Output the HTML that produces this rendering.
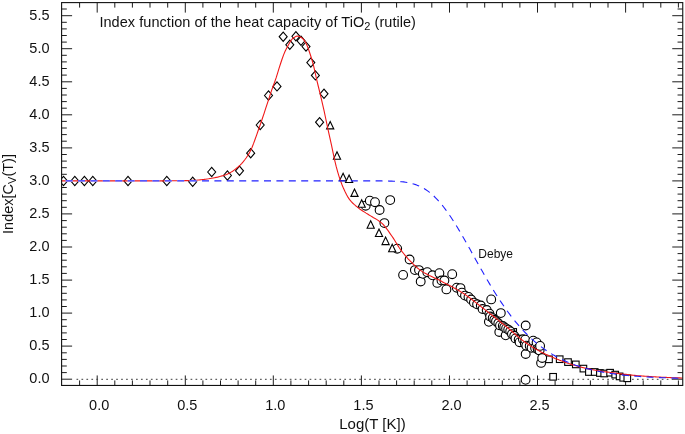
<!DOCTYPE html>
<html><head><meta charset="utf-8"><title>Index function of the heat capacity of TiO2 (rutile)</title>
<style>html,body{margin:0;padding:0;background:#fff}svg{display:block}</style></head>
<body>
<svg width="685" height="434" viewBox="0 0 685 434" font-family="'Liberation Sans', sans-serif" fill="#111">
<rect width="685" height="434" fill="#fff"/>
<clipPath id="c"><rect x="61.6" y="2.6" width="621.15" height="382.84999999999997"/></clipPath>
<path d="M79.6 385.45v-5M79.6 2.6v5M97.2 385.45v-10M97.2 2.6v10M114.8 385.45v-5M114.8 2.6v5M132.4 385.45v-5M132.4 2.6v5M150.0 385.45v-5M150.0 2.6v5M167.7 385.45v-5M167.7 2.6v5M185.3 385.45v-10M185.3 2.6v10M202.9 385.45v-5M202.9 2.6v5M220.5 385.45v-5M220.5 2.6v5M238.1 385.45v-5M238.1 2.6v5M255.7 385.45v-5M255.7 2.6v5M273.3 385.45v-10M273.3 2.6v10M290.9 385.45v-5M290.9 2.6v5M308.6 385.45v-5M308.6 2.6v5M326.2 385.45v-5M326.2 2.6v5M343.8 385.45v-5M343.8 2.6v5M361.4 385.45v-10M361.4 2.6v10M379.0 385.45v-5M379.0 2.6v5M396.6 385.45v-5M396.6 2.6v5M414.2 385.45v-5M414.2 2.6v5M431.8 385.45v-5M431.8 2.6v5M449.5 385.45v-10M449.5 2.6v10M467.1 385.45v-5M467.1 2.6v5M484.7 385.45v-5M484.7 2.6v5M502.3 385.45v-5M502.3 2.6v5M519.9 385.45v-5M519.9 2.6v5M537.5 385.45v-10M537.5 2.6v10M555.1 385.45v-5M555.1 2.6v5M572.8 385.45v-5M572.8 2.6v5M590.4 385.45v-5M590.4 2.6v5M608.0 385.45v-5M608.0 2.6v5M625.6 385.45v-10M625.6 2.6v10M643.2 385.45v-5M643.2 2.6v5M660.8 385.45v-5M660.8 2.6v5M678.4 385.45v-5M678.4 2.6v5M61.6 379.2h10.5M682.75 379.2h-10.5M61.6 372.6h5.2M682.75 372.6h-5.2M61.6 366.0h5.2M682.75 366.0h-5.2M61.6 359.4h5.2M682.75 359.4h-5.2M61.6 352.8h5.2M682.75 352.8h-5.2M61.6 346.1h10.5M682.75 346.1h-10.5M61.6 339.5h5.2M682.75 339.5h-5.2M61.6 332.9h5.2M682.75 332.9h-5.2M61.6 326.3h5.2M682.75 326.3h-5.2M61.6 319.7h5.2M682.75 319.7h-5.2M61.6 313.1h10.5M682.75 313.1h-10.5M61.6 306.5h5.2M682.75 306.5h-5.2M61.6 299.9h5.2M682.75 299.9h-5.2M61.6 293.3h5.2M682.75 293.3h-5.2M61.6 286.7h5.2M682.75 286.7h-5.2M61.6 280.1h10.5M682.75 280.1h-10.5M61.6 273.4h5.2M682.75 273.4h-5.2M61.6 266.8h5.2M682.75 266.8h-5.2M61.6 260.2h5.2M682.75 260.2h-5.2M61.6 253.6h5.2M682.75 253.6h-5.2M61.6 247.0h10.5M682.75 247.0h-10.5M61.6 240.4h5.2M682.75 240.4h-5.2M61.6 233.8h5.2M682.75 233.8h-5.2M61.6 227.2h5.2M682.75 227.2h-5.2M61.6 220.6h5.2M682.75 220.6h-5.2M61.6 213.9h10.5M682.75 213.9h-10.5M61.6 207.3h5.2M682.75 207.3h-5.2M61.6 200.7h5.2M682.75 200.7h-5.2M61.6 194.1h5.2M682.75 194.1h-5.2M61.6 187.5h5.2M682.75 187.5h-5.2M61.6 180.9h10.5M682.75 180.9h-10.5M61.6 174.3h5.2M682.75 174.3h-5.2M61.6 167.7h5.2M682.75 167.7h-5.2M61.6 161.1h5.2M682.75 161.1h-5.2M61.6 154.5h5.2M682.75 154.5h-5.2M61.6 147.9h10.5M682.75 147.9h-10.5M61.6 141.2h5.2M682.75 141.2h-5.2M61.6 134.6h5.2M682.75 134.6h-5.2M61.6 128.0h5.2M682.75 128.0h-5.2M61.6 121.4h5.2M682.75 121.4h-5.2M61.6 114.8h10.5M682.75 114.8h-10.5M61.6 108.2h5.2M682.75 108.2h-5.2M61.6 101.6h5.2M682.75 101.6h-5.2M61.6 95.0h5.2M682.75 95.0h-5.2M61.6 88.4h5.2M682.75 88.4h-5.2M61.6 81.8h10.5M682.75 81.8h-10.5M61.6 75.1h5.2M682.75 75.1h-5.2M61.6 68.5h5.2M682.75 68.5h-5.2M61.6 61.9h5.2M682.75 61.9h-5.2M61.6 55.3h5.2M682.75 55.3h-5.2M61.6 48.7h10.5M682.75 48.7h-10.5M61.6 42.1h5.2M682.75 42.1h-5.2M61.6 35.5h5.2M682.75 35.5h-5.2M61.6 28.9h5.2M682.75 28.9h-5.2M61.6 22.3h5.2M682.75 22.3h-5.2M61.6 15.7h10.5M682.75 15.7h-10.5M61.6 9.0h5.2M682.75 9.0h-5.2" stroke="#111" stroke-width="0.95" fill="none"/>
<path d="M76.5 379.3H672.75" stroke="#3a3a3a" stroke-width="1" stroke-dasharray="1.7 3.26" fill="none"/>
<g clip-path="url(#c)">
<g fill="#fff" stroke="#000" stroke-width="1.1"><rect x="509.9" y="328.6" width="6.6" height="6.6"/><rect x="549.8" y="373.5" width="6.6" height="6.6"/><rect x="545.7" y="356.0" width="6.6" height="6.6"/><rect x="556.4" y="355.9" width="6.6" height="6.6"/><rect x="564.7" y="358.8" width="6.6" height="6.6"/><rect x="572.5" y="361.1" width="6.6" height="6.6"/><rect x="580.1" y="365.3" width="6.6" height="6.6"/><rect x="585.6" y="368.7" width="6.6" height="6.6"/><rect x="591.4" y="368.7" width="6.6" height="6.6"/><rect x="596.6" y="369.7" width="6.6" height="6.6"/><rect x="600.9" y="370.2" width="6.6" height="6.6"/><rect x="606.8" y="369.4" width="6.6" height="6.6"/><rect x="611.9" y="371.3" width="6.6" height="6.6"/><rect x="616.3" y="373.1" width="6.6" height="6.6"/><rect x="619.9" y="374.5" width="6.6" height="6.6"/><rect x="624.0" y="375.0" width="6.6" height="6.6"/><circle cx="365.7" cy="205.7" r="4.4"/><circle cx="369.8" cy="200.7" r="4.4"/><circle cx="375.0" cy="202.2" r="4.4"/><circle cx="379.6" cy="210.0" r="4.4"/><circle cx="384.4" cy="223.1" r="4.4"/><circle cx="390.2" cy="200.1" r="4.4"/><circle cx="397.2" cy="248.7" r="4.4"/><circle cx="403.1" cy="274.9" r="4.4"/><circle cx="409.6" cy="259.5" r="4.4"/><circle cx="414.9" cy="270.1" r="4.4"/><circle cx="419.0" cy="270.1" r="4.4"/><circle cx="420.7" cy="281.5" r="4.4"/><circle cx="422.8" cy="273.8" r="4.4"/><circle cx="427.3" cy="272.2" r="4.4"/><circle cx="432.5" cy="275.3" r="4.4"/><circle cx="437.3" cy="282.9" r="4.4"/><circle cx="439.4" cy="273.2" r="4.4"/><circle cx="441.5" cy="280.5" r="4.4"/><circle cx="444.4" cy="280.5" r="4.4"/><circle cx="446.4" cy="289.4" r="4.4"/><circle cx="452.2" cy="274.2" r="4.4"/><circle cx="456.8" cy="287.7" r="4.4"/><circle cx="460.5" cy="288.1" r="4.4"/><circle cx="461.9" cy="292.7" r="4.4"/><circle cx="465.0" cy="295.6" r="4.4"/><circle cx="468.5" cy="296.9" r="4.4"/><circle cx="471.1" cy="299.5" r="4.4"/><circle cx="473.9" cy="302.6" r="4.4"/><circle cx="477.1" cy="304.3" r="4.4"/><circle cx="480.8" cy="305.5" r="4.4"/><circle cx="482.6" cy="309.0" r="4.4"/><circle cx="486.7" cy="310.0" r="4.4"/><circle cx="488.9" cy="321.8" r="4.4"/><circle cx="489.4" cy="313.6" r="4.4"/><circle cx="490.1" cy="316.5" r="4.4"/><circle cx="491.2" cy="299.4" r="4.4"/><circle cx="492.7" cy="318.1" r="4.4"/><circle cx="494.3" cy="319.8" r="4.4"/><circle cx="496.0" cy="321.3" r="4.4"/><circle cx="498.3" cy="323.3" r="4.4"/><circle cx="499.3" cy="332.0" r="4.4"/><circle cx="500.0" cy="325.4" r="4.4"/><circle cx="500.8" cy="313.1" r="4.4"/><circle cx="502.8" cy="325.9" r="4.4"/><circle cx="504.2" cy="327.3" r="4.4"/><circle cx="505.7" cy="335.3" r="4.4"/><circle cx="506.1" cy="328.4" r="4.4"/><circle cx="508.2" cy="329.6" r="4.4"/><circle cx="510.2" cy="331.3" r="4.4"/><circle cx="511.9" cy="334.1" r="4.4"/><circle cx="514.2" cy="335.8" r="4.4"/><circle cx="515.5" cy="338.4" r="4.4"/><circle cx="518.7" cy="339.5" r="4.4"/><circle cx="519.6" cy="342.2" r="4.4"/><circle cx="522.9" cy="339.3" r="4.4"/><circle cx="524.8" cy="343.6" r="4.4"/><circle cx="525.2" cy="339.7" r="4.4"/><circle cx="525.6" cy="379.8" r="4.4"/><circle cx="525.7" cy="325.5" r="4.4"/><circle cx="525.7" cy="354.0" r="4.4"/><circle cx="526.3" cy="345.7" r="4.4"/><circle cx="529.7" cy="346.0" r="4.4"/><circle cx="531.6" cy="347.8" r="4.4"/><circle cx="533.2" cy="340.7" r="4.4"/><circle cx="535.1" cy="347.9" r="4.4"/><circle cx="536.6" cy="342.4" r="4.4"/><circle cx="537.6" cy="348.7" r="4.4"/><circle cx="538.2" cy="349.8" r="4.4"/><circle cx="539.6" cy="350.4" r="4.4"/><circle cx="540.1" cy="345.9" r="4.4"/><circle cx="541.1" cy="362.9" r="4.4"/><circle cx="542.2" cy="358.0" r="4.4"/><path d="M326.6 128.9h7.2l-3.6 -7.5z"/><path d="M333.4 159.2h7.2l-3.6 -7.5z"/><path d="M339.5 180.8h7.2l-3.6 -7.5z"/><path d="M345.5 182.5h7.2l-3.6 -7.5z"/><path d="M350.9 196.4h7.2l-3.6 -7.5z"/><path d="M358.1 207.2h7.2l-3.6 -7.5z"/><path d="M367.1 228.2h7.2l-3.6 -7.5z"/><path d="M375.4 236.5h7.2l-3.6 -7.5z"/><path d="M382.0 244.6h7.2l-3.6 -7.5z"/><path d="M388.6 251.8h7.2l-3.6 -7.5z"/><path d="M59.5 181.0l4 -4.6l4 4.6l-4 4.6z"/><path d="M70.8 181.0l4 -4.6l4 4.6l-4 4.6z"/><path d="M80.4 181.0l4 -4.6l4 4.6l-4 4.6z"/><path d="M88.8 181.0l4 -4.6l4 4.6l-4 4.6z"/><path d="M124.0 181.0l4 -4.6l4 4.6l-4 4.6z"/><path d="M162.8 181.0l4 -4.6l4 4.6l-4 4.6z"/><path d="M188.7 181.8l4 -4.6l4 4.6l-4 4.6z"/><path d="M207.7 172.0l4 -4.6l4 4.6l-4 4.6z"/><path d="M223.4 175.5l4 -4.6l4 4.6l-4 4.6z"/><path d="M235.5 170.8l4 -4.6l4 4.6l-4 4.6z"/><path d="M246.7 153.2l4 -4.6l4 4.6l-4 4.6z"/><path d="M256.2 125.0l4 -4.6l4 4.6l-4 4.6z"/><path d="M264.5 95.5l4 -4.6l4 4.6l-4 4.6z"/><path d="M273.0 86.4l4 -4.6l4 4.6l-4 4.6z"/><path d="M279.2 36.7l4 -4.6l4 4.6l-4 4.6z"/><path d="M285.8 44.8l4 -4.6l4 4.6l-4 4.6z"/><path d="M291.9 36.3l4 -4.6l4 4.6l-4 4.6z"/><path d="M297.0 40.8l4 -4.6l4 4.6l-4 4.6z"/><path d="M302.0 46.6l4 -4.6l4 4.6l-4 4.6z"/><path d="M306.8 62.6l4 -4.6l4 4.6l-4 4.6z"/><path d="M311.4 75.4l4 -4.6l4 4.6l-4 4.6z"/><path d="M320.0 93.8l4 -4.6l4 4.6l-4 4.6z"/><path d="M315.6 122.2l4 -4.6l4 4.6l-4 4.6z"/></g>
<path d="M61.6 180.9L63.1 180.9L64.6 180.9L66.1 180.9L67.6 180.9L69.1 180.9L70.6 180.9L72.1 180.9L73.6 180.9L75.1 180.9L76.6 180.9L78.1 180.9L79.6 180.9L81.1 180.9L82.6 180.9L84.1 180.9L85.6 180.9L87.1 180.9L88.6 180.9L90.1 180.9L91.6 180.9L93.1 180.9L94.6 180.9L96.1 180.9L97.6 180.9L99.1 180.9L100.6 180.9L102.1 180.9L103.6 180.9L105.1 180.9L106.6 180.9L108.1 180.9L109.6 180.9L111.1 180.9L112.6 180.9L114.1 180.9L115.6 180.9L117.1 180.9L118.6 180.9L120.1 180.9L121.6 180.9L123.1 180.9L124.6 180.9L126.1 180.9L127.6 180.9L129.1 180.9L130.6 180.9L132.1 180.9L133.6 180.9L135.1 180.9L136.6 180.9L138.1 180.9L139.6 180.9L141.1 180.9L142.6 180.9L144.1 180.9L145.6 180.9L147.1 180.9L148.6 180.9L150.1 180.9L151.6 180.9L153.1 180.9L154.6 180.9L156.1 180.9L157.6 180.9L159.1 180.9L160.6 180.9L162.1 180.9L163.6 180.9L165.1 180.8L166.6 180.8L168.1 180.8L169.6 180.8L171.1 180.8L172.6 180.8L174.1 180.8L175.6 180.7L177.1 180.7L178.6 180.7L180.1 180.7L181.6 180.7L183.1 180.7L184.6 180.6L186.1 180.6L187.6 180.6L189.1 180.5L190.6 180.5L192.1 180.4L193.6 180.4L195.1 180.3L196.6 180.2L198.1 180.0L199.6 179.9L201.1 179.7L202.6 179.5L204.1 179.4L205.6 179.2L207.1 179.0L208.6 178.8L210.1 178.5L211.6 178.3L213.1 178.0L214.6 177.7L216.1 177.4L217.6 177.1L219.1 176.7L220.6 176.3L222.1 175.9L223.6 175.5L225.1 175.0L226.6 174.4L228.1 173.7L229.6 173.0L231.1 172.1L232.6 171.2L234.1 170.1L235.6 169.0L237.1 167.8L238.6 166.5L240.1 165.1L241.6 163.6L243.1 161.9L244.6 160.0L246.1 158.0L247.6 155.8L249.1 153.4L250.6 150.6L252.1 147.2L253.6 143.4L255.1 139.3L256.6 135.1L258.1 130.7L259.6 126.5L261.1 122.2L262.6 117.8L264.1 113.3L265.6 108.7L267.1 104.2L268.6 99.6L270.1 94.9L271.6 90.4L273.1 86.2L274.6 82.2L276.1 77.9L277.6 73.1L279.1 68.1L280.6 63.5L282.1 59.0L283.6 54.9L285.1 51.3L286.6 48.2L288.1 45.4L289.6 42.8L291.1 40.4L292.6 38.5L294.1 37.5L295.6 36.6L297.1 36.1L298.6 36.2L300.1 36.8L301.6 37.7L303.1 38.9L304.6 40.9L306.1 43.4L307.6 46.7L309.1 51.0L310.6 55.5L312.1 60.3L313.6 65.8L315.1 72.5L316.6 79.3L318.1 85.5L319.6 91.7L321.1 97.9L322.6 104.3L324.1 110.9L325.6 118.0L327.1 125.1L328.6 132.1L330.1 138.9L331.6 145.7L333.1 152.9L334.6 159.9L336.1 166.2L337.6 171.6L339.1 176.6L340.6 181.0L342.1 185.0L343.6 188.6L345.1 191.8L346.6 194.7L348.1 197.4L349.6 199.6L351.1 201.4L352.6 203.0L354.1 204.4L355.6 205.7L357.1 206.9L358.6 208.1L360.1 209.2L361.6 210.2L363.1 211.2L364.6 212.1L366.1 213.1L367.6 214.0L369.1 215.0L370.6 215.9L372.1 216.8L373.6 217.7L375.1 218.5L376.6 219.4L378.1 220.4L379.6 221.5L381.1 222.6L382.6 223.9L384.1 225.5L385.6 227.3L387.1 229.3L388.6 231.4L390.1 233.6L391.6 235.7L393.1 237.9L394.6 240.3L396.1 242.7L397.6 245.1L399.1 247.5L400.6 249.6L402.1 251.6L403.6 253.5L405.1 255.4L406.6 257.1L408.1 258.8L409.6 260.4L411.1 261.9L412.6 263.5L414.1 264.9L415.6 266.3L417.1 267.7L418.6 268.9L420.1 270.1L421.6 271.1L423.1 272.1L424.6 273.0L426.1 273.8L427.6 274.6L429.1 275.4L430.6 276.1L432.1 276.8L433.6 277.5L435.1 278.2L436.6 278.9L438.1 279.6L439.6 280.3L441.1 281.1L442.6 281.9L444.1 282.7L445.6 283.4L447.1 284.2L448.6 285.0L450.1 285.8L451.6 286.6L453.1 287.4L454.6 288.2L456.1 289.0L457.6 289.9L459.1 290.8L460.6 291.7L462.1 292.6L463.6 293.5L465.1 294.5L466.6 295.6L468.1 296.7L469.6 297.8L471.1 298.9L472.6 300.0L474.1 301.2L475.6 302.4L477.1 303.6L478.6 304.7L480.1 305.9L481.6 307.1L483.1 308.3L484.6 309.4L486.1 310.6L487.6 311.8L489.1 312.9L490.6 314.1L492.1 315.3L493.6 316.5L495.1 317.7L496.6 318.9L498.1 320.1L499.6 321.3L501.1 322.5L502.6 323.7L504.1 324.9L505.6 326.1L507.1 327.3L508.6 328.5L510.1 329.8L511.6 331.0L513.1 332.3L514.6 333.6L516.1 335.0L517.6 336.3L519.1 337.6L520.6 338.8L522.1 340.0L523.6 341.1L525.1 342.2L526.6 343.2L528.1 344.3L529.6 345.3L531.1 346.3L532.6 347.2L534.1 348.1L535.6 349.0L537.1 349.8L538.6 350.6L540.1 351.4L541.6 352.2L543.1 353.0L544.6 353.7L546.1 354.4L547.6 355.1L549.1 355.8L550.6 356.4L552.1 357.1L553.6 357.7L555.1 358.4L556.6 359.0L558.1 359.6L559.6 360.2L561.1 360.8L562.6 361.3L564.1 361.9L565.6 362.4L567.1 363.0L568.6 363.5L570.1 363.9L571.6 364.4L573.1 364.9L574.6 365.3L576.1 365.7L577.6 366.2L579.1 366.6L580.6 367.0L582.1 367.4L583.6 367.7L585.1 368.1L586.6 368.5L588.1 368.8L589.6 369.1L591.1 369.4L592.6 369.7L594.1 370.0L595.6 370.3L597.1 370.5L598.6 370.8L600.1 371.0L601.6 371.2L603.1 371.5L604.6 371.7L606.1 371.9L607.6 372.1L609.1 372.3L610.6 372.5L612.1 372.7L613.6 372.9L615.1 373.1L616.6 373.3L618.1 373.5L619.6 373.7L621.1 373.9L622.6 374.1L624.1 374.3L625.6 374.4L627.1 374.6L628.6 374.8L630.1 375.0L631.6 375.1L633.1 375.3L634.6 375.4L636.1 375.5L637.6 375.7L639.1 375.8L640.6 375.9L642.1 376.0L643.6 376.1L645.1 376.2L646.6 376.3L648.1 376.4L649.6 376.5L651.1 376.6L652.6 376.7L654.1 376.8L655.6 376.9L657.1 377.0L658.6 377.0L660.1 377.1L661.6 377.2L663.1 377.3L664.6 377.3L666.1 377.4L667.6 377.5L669.1 377.5L670.6 377.6L672.1 377.7L673.6 377.7L675.1 377.8L676.6 377.8L678.1 377.9L679.6 377.9L681.1 378.0L682.6 378.0" stroke="#f01818" stroke-width="1.1" fill="none" stroke-linejoin="round"/>
<path d="M61.6 180.9H200" stroke="#fff" stroke-width="1.7" stroke-dasharray="7 5.4" stroke-dashoffset="-4" fill="none"/>
<path d="M61.6 180.9L63.6 180.9L65.6 180.9L67.6 180.9L69.6 180.9L71.6 180.9L73.6 180.9L75.6 180.9L77.6 180.9L79.6 180.9L81.6 180.9L83.6 180.9L85.6 180.9L87.6 180.9L89.6 180.9L91.6 180.9L93.6 180.9L95.6 180.9L97.6 180.9L99.6 180.9L101.6 180.9L103.6 180.9L105.6 180.9L107.6 180.9L109.6 180.9L111.6 180.9L113.6 180.9L115.6 180.9L117.6 180.9L119.6 180.9L121.6 180.9L123.6 180.9L125.6 180.9L127.6 180.9L129.6 180.9L131.6 180.9L133.6 180.9L135.6 180.9L137.6 180.9L139.6 180.9L141.6 180.9L143.6 180.9L145.6 180.9L147.6 180.9L149.6 180.9L151.6 180.9L153.6 180.9L155.6 180.9L157.6 180.9L159.6 180.9L161.6 180.9L163.6 180.9L165.6 180.9L167.6 180.9L169.6 180.9L171.6 180.9L173.6 180.9L175.6 180.9L177.6 180.9L179.6 180.9L181.6 180.9L183.6 180.9L185.6 180.9L187.6 180.9L189.6 180.9L191.6 180.9L193.6 180.9L195.6 180.9L197.6 180.9L199.6 180.9L201.6 180.9L203.6 180.9L205.6 180.9L207.6 180.9L209.6 180.9L211.6 180.9L213.6 180.9L215.6 180.9L217.6 180.9L219.6 180.9L221.6 180.9L223.6 180.9L225.6 180.9L227.6 180.9L229.6 180.9L231.6 180.9L233.6 180.9L235.6 180.9L237.6 180.9L239.6 180.9L241.6 180.9L243.6 180.9L245.6 180.9L247.6 180.9L249.6 180.9L251.6 180.9L253.6 180.9L255.6 180.9L257.6 180.9L259.6 180.9L261.6 180.9L263.6 180.9L265.6 180.9L267.6 180.9L269.6 180.9L271.6 180.9L273.6 180.9L275.6 180.9L277.6 180.9L279.6 180.9L281.6 180.9L283.6 180.9L285.6 180.9L287.6 180.9L289.6 180.9L291.6 180.9L293.6 180.9L295.6 180.9L297.6 180.9L299.6 180.9L301.6 180.9L303.6 180.9L305.6 180.9L307.6 180.9L309.6 180.9L311.6 180.9L313.6 180.9L315.6 180.9L317.6 180.9L319.6 180.9L321.6 180.9L323.6 180.9L325.6 180.9L327.6 180.9L329.6 180.9L331.6 180.9L333.6 180.9L335.6 180.9L337.6 180.9L339.6 180.9L341.6 180.9L343.6 180.9L345.6 180.9L347.6 180.9L349.6 180.9L351.6 180.9L353.6 180.9L355.6 180.9L357.6 180.9L359.6 180.9L361.6 180.9L363.6 180.9L365.6 180.9L367.6 180.9L369.6 180.9L371.6 180.9L373.6 180.9L375.6 180.9L377.6 180.9L379.6 180.9L381.6 180.9L383.6 181.0L385.6 181.0L387.6 181.0L389.6 181.1L391.6 181.1L393.6 181.2L395.6 181.3L397.6 181.4L399.6 181.5L401.6 181.7L403.6 181.9L405.6 182.2L407.6 182.6L409.6 183.0L411.6 183.4L413.6 184.0L415.6 184.6L417.6 185.4L419.6 186.2L421.6 187.2L423.6 188.3L425.6 189.5L427.6 190.9L429.6 192.4L431.6 194.0L433.6 195.8L435.6 197.8L437.6 199.8L439.6 202.1L441.6 204.4L443.6 207.0L445.6 209.6L447.6 212.4L449.6 215.2L451.6 218.2L453.6 221.3L455.6 224.5L457.6 227.8L459.6 231.1L461.6 234.6L463.6 238.0L465.6 241.5L467.6 245.1L469.6 248.6L471.6 252.2L473.6 255.8L475.6 259.4L477.6 263.0L479.6 266.6L481.6 270.1L483.6 273.6L485.6 277.1L487.6 280.5L489.6 283.9L491.6 287.2L493.6 290.5L495.6 293.7L497.6 296.8L499.6 299.9L501.6 302.9L503.6 305.8L505.6 308.7L507.6 311.5L509.6 314.2L511.6 316.8L513.6 319.3L515.6 321.8L517.6 324.2L519.6 326.5L521.6 328.8L523.6 330.9L525.6 333.0L527.6 335.0L529.6 336.9L531.6 338.8L533.6 340.6L535.6 342.3L537.6 344.0L539.6 345.6L541.6 347.1L543.6 348.6L545.6 350.0L547.6 351.4L549.6 352.7L551.6 353.9L553.6 355.1L555.6 356.2L557.6 357.3L559.6 358.4L561.6 359.3L563.6 360.3L565.6 361.2L567.6 362.1L569.6 362.9L571.6 363.7L573.6 364.4L575.6 365.2L577.6 365.8L579.6 366.5L581.6 367.1L583.6 367.7L585.6 368.3L587.6 368.8L589.6 369.3L591.6 369.8L593.6 370.3L595.6 370.7L597.6 371.1L599.6 371.5L601.6 371.9L603.6 372.3L605.6 372.6L607.6 373.0L609.6 373.3L611.6 373.6L613.6 373.8L615.6 374.1L617.6 374.4L619.6 374.6L621.6 374.8L623.6 375.1L625.6 375.3L627.6 375.5L629.6 375.7L631.6 375.8L633.6 376.0L635.6 376.2L637.6 376.3L639.6 376.5L641.6 376.6L643.6 376.7L645.6 376.9L647.6 377.0L649.6 377.1L651.6 377.2L653.6 377.3L655.6 377.4L657.6 377.5L659.6 377.6L661.6 377.7L663.6 377.7L665.6 377.8L667.6 377.9L669.6 377.9L671.6 378.0L673.6 378.1L675.6 378.1L677.6 378.2L679.6 378.2L681.6 378.3" stroke="#2020ff" stroke-width="1.1" stroke-dasharray="7 5.4" stroke-dashoffset="-4" fill="none"/>
</g>
<rect x="61.6" y="2.6" width="621.15" height="382.84999999999997" fill="none" stroke="#111" stroke-width="1.1"/>
<text x="99.2" y="410.2" font-size="14.5" text-anchor="middle">0.0</text>
<text x="187.3" y="410.2" font-size="14.5" text-anchor="middle">0.5</text>
<text x="275.3" y="410.2" font-size="14.5" text-anchor="middle">1.0</text>
<text x="363.4" y="410.2" font-size="14.5" text-anchor="middle">1.5</text>
<text x="451.5" y="410.2" font-size="14.5" text-anchor="middle">2.0</text>
<text x="539.5" y="410.2" font-size="14.5" text-anchor="middle">2.5</text>
<text x="627.6" y="410.2" font-size="14.5" text-anchor="middle">3.0</text>
<text x="49.5" y="383.4" font-size="14.5" text-anchor="end">0.0</text>
<text x="49.5" y="350.4" font-size="14.5" text-anchor="end">0.5</text>
<text x="49.5" y="317.4" font-size="14.5" text-anchor="end">1.0</text>
<text x="49.5" y="284.3" font-size="14.5" text-anchor="end">1.5</text>
<text x="49.5" y="251.2" font-size="14.5" text-anchor="end">2.0</text>
<text x="49.5" y="218.2" font-size="14.5" text-anchor="end">2.5</text>
<text x="49.5" y="185.2" font-size="14.5" text-anchor="end">3.0</text>
<text x="49.5" y="152.1" font-size="14.5" text-anchor="end">3.5</text>
<text x="49.5" y="119.1" font-size="14.5" text-anchor="end">4.0</text>
<text x="49.5" y="86.0" font-size="14.5" text-anchor="end">4.5</text>
<text x="49.5" y="52.9" font-size="14.5" text-anchor="end">5.0</text>
<text x="49.5" y="19.9" font-size="14.5" text-anchor="end">5.5</text>
<text x="372.5" y="428.6" font-size="15" text-anchor="middle">Log(T [K])</text>
<text x="99.4" y="27.3" font-size="14.5" letter-spacing="0.05">Index function of the heat capacity of TiO<tspan font-size="11" dy="2.4">2</tspan><tspan dy="-2.4"> (rutile)</tspan></text>
<text transform="translate(13.2 194) rotate(-90)" font-size="14.5" text-anchor="middle">Index[C<tspan font-size="11" dy="2.4">V</tspan><tspan dy="-2.4">(T)]</tspan></text>
<text x="478.3" y="257.8" font-size="12">Debye</text>
</svg>
</body></html>
